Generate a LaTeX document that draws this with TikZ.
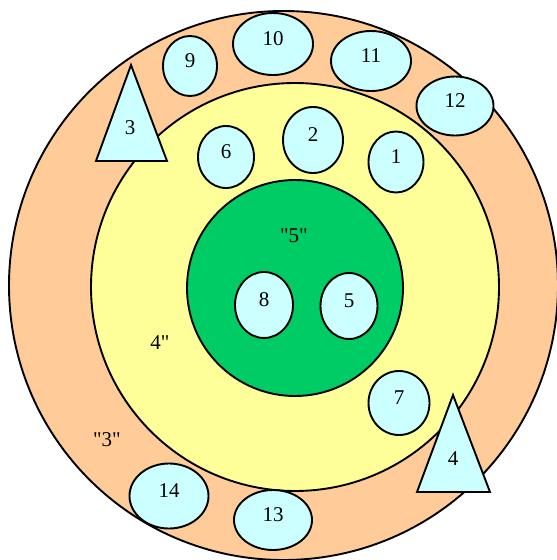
\documentclass[tikz,border=0pt]{standalone}
\usepackage{fontspec}
\setmainfont{Liberation Serif}[Ligatures=TeXOff]
\usetikzlibrary{shapes.geometric}
\definecolor{peach}{HTML}{FFCC99}
\definecolor{lyellow}{HTML}{FFFF99}
\definecolor{dgreen}{HTML}{00CC66}
\definecolor{lcyan}{HTML}{CCFFFF}
\tikzset{
  ring/.style={draw=black, line width=1.9pt},
  blob/.style={ellipse, draw=black, line width=1.9pt, fill=lcyan, inner sep=0pt,
    font=\fontsize{21}{25}\selectfont, text depth=10pt},
  tri/.style={draw=black, line width=1.9pt, fill=lcyan},
  lbl/.style={font=\fontsize{21}{25}\selectfont, inner sep=0pt}
}
\begin{document}
\begin{tikzpicture}[x=1pt,y=-1pt]
\useasboundingbox (0,0) rectangle (557,560);
\draw[ring, fill=peach] (283.5,285.5) circle (274.5);
\draw[ring, fill=lyellow] (295,287) circle (204);
\draw[ring, fill=dgreen] (295,288) circle (108);
% triangles
\draw[tri] (131,65) -- (167,161) -- (96,161) -- cycle;
\node[lbl] (t3) at (130,128) {3};
\draw[tri] (453,395) -- (490,492) -- (417,492) -- cycle;
\node[lbl] (t4) at (453,459) {4};
% ellipses
\node[blob, minimum width=54, minimum height=60] (n9) at (190,66) {9};
\node[blob, minimum width=80, minimum height=62] (n10) at (273,44) {10};
\node[blob, minimum width=80, minimum height=60] (n11) at (371,61) {11};
\node[blob, minimum width=77, minimum height=59] (n12) at (455,106) {12};
\node[blob, minimum width=60, minimum height=66] (n2) at (313,140) {2};
\node[blob, minimum width=55, minimum height=61] (n1) at (396,162) {1};
\node[blob, minimum width=56, minimum height=62] (n6) at (226,157) {6};
\node[blob, minimum width=58, minimum height=66] (n8) at (264,305) {8};
\node[blob, minimum width=57, minimum height=66] (n5) at (349,306) {5};
\node[blob, minimum width=61, minimum height=64] (n7) at (399,403) {7};
\node[blob, minimum width=79, minimum height=65] (n14) at (169,496) {14};
\node[blob, minimum width=78, minimum height=60] (n13) at (273,520) {13};
% region labels
\node[lbl] (l5) at (294,236) {"5"};
\node[lbl] (l4) at (160,343) {4"};
\node[lbl] (l3) at (107,440) {"3"};
\end{tikzpicture}
\end{document}
